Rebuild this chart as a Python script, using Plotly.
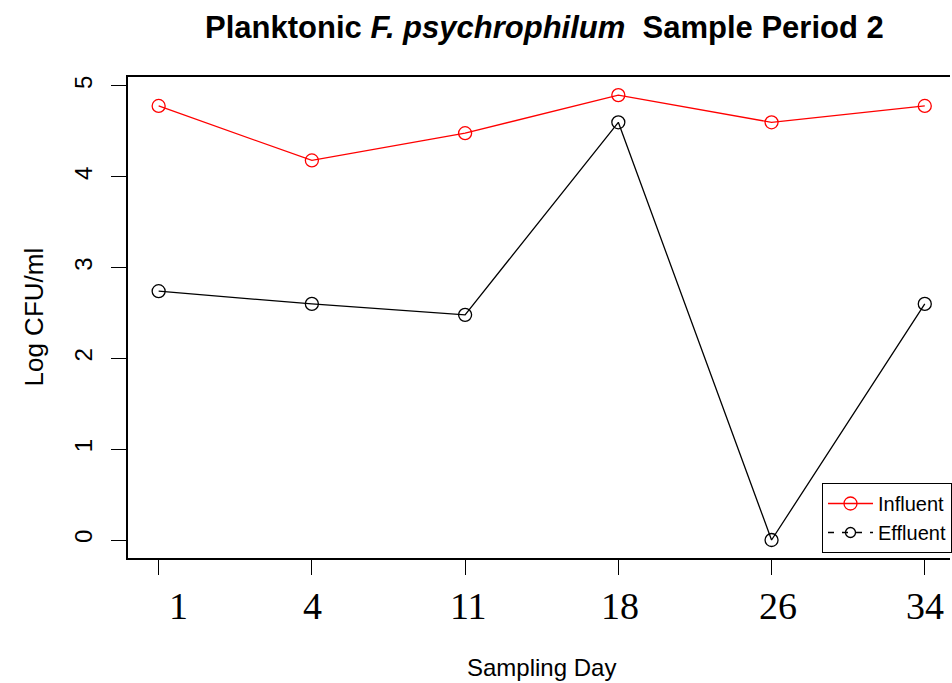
import plotly.graph_objects as go

days = ["1", "4", "11", "18", "26", "34"]
influent = [4.78, 4.18, 4.48, 4.90, 4.60, 4.78]
effluent = [2.74, 2.60, 2.48, 4.60, 0.00, 2.60]
y_ticks = [0, 1, 2, 3, 4, 5]

W, H = 952, 683
L, T, B = 128, 77, 125
idx = list(range(1, len(days) + 1))
# small horizontal nudges of the day labels seen in the reference (pixels)
label_nudge = [20, 1, 3, 2, 6, 0]

fig = go.Figure()
fig.add_trace(go.Scatter(
    x=idx, y=influent, mode="lines+markers", name="Influent",
    line=dict(color="red", width=1.3),
    marker=dict(symbol="circle-open", size=13, color="red", line=dict(width=1.3)),
))
fig.add_trace(go.Scatter(
    x=idx, y=effluent, mode="lines+markers", name="Effluent", showlegend=False,
    line=dict(color="black", width=1.3),
    marker=dict(symbol="circle-open", size=13, color="black", line=dict(width=1.3)),
))
# legend entry for effluent (dashed style as in reference legend)
fig.add_trace(go.Scatter(
    x=[None], y=[None], mode="lines+markers", name="Effluent",
    line=dict(color="black", width=1.3, dash="6px,8px"),
    marker=dict(symbol="circle-open", size=10, color="black", line=dict(width=1.3)),
))

annotations = [
    dict(text="<b>Planktonic <i>F. psychrophilum</i>  Sample Period 2</b>",
         x=(546 - L) / (W - L), y=1, yshift=(T - 27),
         xref="paper", yref="paper",
         xanchor="center", yanchor="middle", showarrow=False,
         font=dict(size=31)),
    dict(text="Sampling Day", x=(543 - L) / (W - L), y=0,
         xref="paper", yref="paper", xanchor="center", yanchor="middle",
         yshift=-(667 - 558), showarrow=False, font=dict(size=24)),
    dict(text="Log CFU/ml", x=0, y=0.5, xref="paper", yref="paper",
         xanchor="center", yanchor="middle", xshift=-(L - 33),
         textangle=-90, showarrow=False, font=dict(size=26)),
]
for i, d in zip(idx, days):
    annotations.append(dict(
        text=d, x=i, y=0, xref="x", yref="paper",
        xanchor="center", yanchor="middle",
        xshift=label_nudge[i - 1], yshift=-48, showarrow=False,
        font=dict(family="Liberation Serif, DejaVu Serif", size=38),
    ))

fig.update_layout(
    width=W, height=H,
    margin=dict(l=L, r=0, t=T, b=B),
    paper_bgcolor="white", plot_bgcolor="white",
    font=dict(family="Liberation Sans, Arial", color="black"),
    showlegend=True,
    legend=dict(
        x=(824 - L) / (W - L), y=(558 - 483) / (H - T - B),
        xanchor="left", yanchor="top",
        bordercolor="black", borderwidth=1, bgcolor="white",
        font=dict(size=20, family="Liberation Sans, Arial"),
        itemwidth=45,
        tracegroupgap=2,
    ),
    xaxis=dict(
        range=[0.8, 0.8 + (W - L) / 153.6],
        tickvals=idx, showticklabels=False,
        showgrid=False, zeroline=False,
        showline=True, linecolor="black", linewidth=1.5, mirror=True,
        ticks="outside", ticklen=15, tickwidth=1.3, tickcolor="black",
    ),
    yaxis=dict(
        range=[-0.198, 5.099],
        tickvals=y_ticks,
        showgrid=False, zeroline=False,
        showline=True, linecolor="black", linewidth=1.5, mirror=False,
        ticks="outside", ticklen=15, tickwidth=1.3, tickcolor="black",
        tickfont=dict(size=24), tickangle=-90,
        ticklabelstandoff=10,
    ),
    annotations=annotations,
)

fig.write_html("out.html")
